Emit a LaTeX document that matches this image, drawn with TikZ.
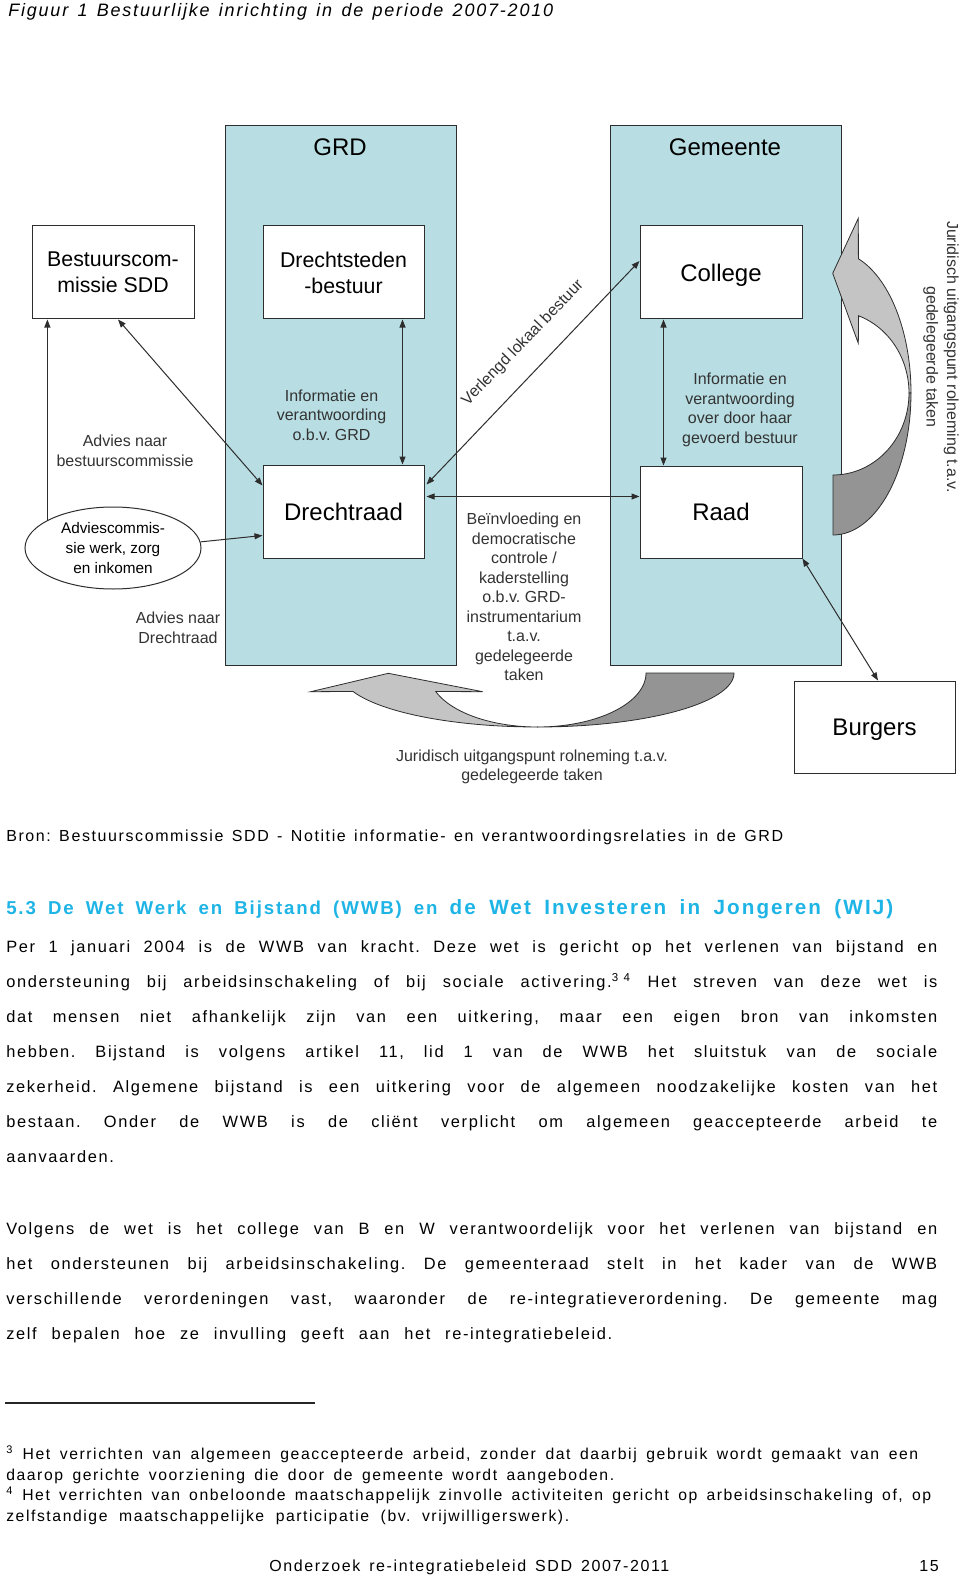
\documentclass[tikz,border=0pt]{standalone}
\usepackage{fontspec}
\setmainfont{Liberation Sans}
\newfontfamily\bodyf{Liberation Sans}[LetterSpace=10.0]
\usetikzlibrary{arrows.meta,shapes.geometric,calc}
\definecolor{boxblue}{RGB}{184,222,227}
\definecolor{arrlight}{RGB}{196,196,196}
\definecolor{arrdark}{RGB}{148,148,148}
\definecolor{headcyan}{RGB}{30,180,230}
\definecolor{edgec}{RGB}{45,45,45}
\newcommand{\pxl}[1]{#1*0.75pt}
\newcommand{\pxd}[1]{\dimexpr 0.75pt*#1\relax}
\newcommand{\jl}[2]{\makebox[\pxd{#1}][s]{#2}}
\tikzset{
  box/.style={draw=edgec, fill=white, line width=0.75pt, inner sep=0pt, align=center},
  container/.style={draw=edgec, fill=boxblue, line width=0.75pt, inner sep=0pt},
  big/.style={font=\fontsize{18}{21}\selectfont, text depth=0pt},
  mid/.style={font=\fontsize{16}{19.5}\selectfont},
  lbl/.style={font=\fontsize{12}{14.6}\selectfont, text=black!80, align=center, inner sep=0pt},
  conn/.style={line width=0.75pt, draw=edgec, {Triangle[length=6pt,width=4.5pt]}-{Triangle[length=6pt,width=4.5pt]}},
  conn1/.style={line width=0.75pt, draw=edgec, -{Triangle[length=6pt,width=4.5pt]}},
  bodytxt/.style={anchor=base west, inner sep=0pt, font=\bodyf\fontsize{12.3}{14}\selectfont},
  smalltxt/.style={anchor=base west, inner sep=0pt, font=\bodyf\fontsize{11.8}{13}\selectfont},
  garrow/.style={draw=edgec, line width=0.6pt},
}
\begin{document}
\frenchspacing
\begin{tikzpicture}[x=0.75pt, y=-0.75pt]
\fill[white] (0,0) rectangle (960,1576);
\useasboundingbox (0,0) rectangle (960,1576);

% caption
\node[bodytxt, font=\bodyf\itshape\fontsize{13.5}{15}\selectfont] (cap) at (8,17) {\jl{545}{Figuur 1 Bestuurlijke inrichting in de periode 2007-2010}};

% containers
\node[container, minimum width=\pxl{231}, minimum height=\pxl{539}] (grd) at (340.5,395.5) {};
\node[container, minimum width=\pxl{231}, minimum height=\pxl{539}] (gem) at (725.5,395.5) {};
\node[big, inner sep=0pt] (grdt) at (340,147) {GRD};
\node[big, inner sep=0pt] (gemt) at (725,147) {Gemeente};

% boxes
\node[box, mid, minimum width=\pxl{162}, minimum height=\pxl{93}] (bsc) at (113,272.5) {Bestuurscom-\\missie SDD};
\node[box, mid, minimum width=\pxl{161}, minimum height=\pxl{93}] (dsb) at (343.5,272.5) {Drechtsteden\\-bestuur};
\node[box, big, minimum width=\pxl{161}, minimum height=\pxl{93}] (dtr) at (343.5,511.5) {Drechtraad};
\node[box, big, minimum width=\pxl{162}, minimum height=\pxl{93}] (col) at (721,272.5) {College};
\node[box, big, minimum width=\pxl{162}, minimum height=\pxl{92}] (raad) at (721,512) {Raad};
\node[box, big, minimum width=\pxl{161}, minimum height=\pxl{92}] (burg) at (874.5,727) {Burgers};
\node[draw=edgec, fill=white, line width=0.75pt, ellipse, minimum width=\pxl{176}, minimum height=\pxl{82}, inner sep=0pt, align=center, font=\fontsize{11.5}{15}\selectfont] (ell) at (113,548) {Adviescommis-\\sie werk, zorg\\en inkomen};

% curved arrow right
\filldraw[garrow, fill=arrlight] plot[domain=71:0, samples=40] ({833+78*cos(\x)},{393-142*sin(\x)})
  -- plot[domain=0:70.3, samples=40] ({833+76*cos(\x)},{393-82*sin(\x)})
  -- (858.3,343.3) -- (832.7,273.3) -- (858.3,218.3) -- cycle;
\filldraw[garrow, fill=arrdark] plot[domain=0:-90, samples=40] ({833+78*cos(\x)},{393-142*sin(\x)})
  -- plot[domain=-90:0, samples=40] ({833+76*cos(\x)},{393-82*sin(\x)}) -- cycle;

% curved arrow bottom
\filldraw[garrow, fill=arrlight] plot[domain=90:160, samples=40] ({537.6+196.4*cos(\x)},{673+54*sin(\x)})
  -- (310.7,691.7) -- (388.3,673.3) -- (482.7,691.7)
  -- plot[domain=160:90, samples=40] ({537.6+108.4*cos(\x)},{673+54*sin(\x)}) -- cycle;
\filldraw[garrow, fill=arrdark] plot[domain=0:90, samples=40] ({537.6+196.4*cos(\x)},{673+54*sin(\x)})
  -- plot[domain=90:0, samples=40] ({537.6+108.4*cos(\x)},{673+54*sin(\x)}) -- cycle;

% connectors
\draw[conn] ($(bsc.south)+(5,0)$) -- ($(dtr.north west)+(0,21)$);
\draw[conn1] (ell.157) -- (ell.157 |- bsc.south);
\draw[conn1] (ell.4) -- ($(dtr.west)+(0,24)$);
\draw[conn] ($(dsb.south east)+(-22,0)$) -- ($(dtr.north east)+(-22,0)$);
\draw[conn] ($(dtr.north east)+(2,20)$) -- ($(col.west)+(0,-11.5)$);
\draw[conn] ($(dtr.east)+(2,-15)$) -- ($(raad.west)+(0,-15.5)$);
\draw[conn] ($(col.south west)+(24,0)$) -- ($(raad.north west)+(24,0)$);
\draw[conn] (raad.south east) -- ($(burg.north)+(3.5,0)$);

% labels
\node[lbl] (l1) at (125,451) {Advies naar\\bestuurscommissie};
\node[lbl] (l2) at (331.5,415) {Informatie en\\verantwoording\\o.b.v. GRD};
\node[lbl, rotate=46] (l3) at (523,343) {Verlengd lokaal bestuur};
\node[lbl] (l4) at (740,410) {Informatie en\\verantwoording\\over door haar\\gevoerd bestuur};
\node[lbl] (l5) at (178,628) {Advies naar\\Drechtraad};
\node[lbl] (l6) at (524,597) {Beïnvloeding en\\democratische\\controle /\\kaderstelling\\o.b.v. GRD-\\instrumentarium\\t.a.v.\\gedelegeerde\\taken};
\node[lbl] (l7) at (532,767) {Juridisch uitgangspunt rolneming t.a.v.\\gedelegeerde taken};
\node[lbl, rotate=-90, font=\fontsize{12}{15.5}\selectfont] (l8) at (941,357) {Juridisch uitgangspunt rolneming t.a.v.\\gedelegeerde taken};

% source
\node[smalltxt, font=\bodyf\fontsize{12}{14}\selectfont] (bron) at (6,841) {\jl{777}{Bron: Bestuurscommissie SDD - Notitie informatie- en verantwoordingsrelaties in de GRD}};

% heading
\node[bodytxt, font=\bodyf\bfseries\fontsize{14}{16}\selectfont, text=headcyan] (head) at (6,914) {\jl{887}{5.3 De Wet Werk en Bijstand (WWB) en {\fontsize{15.5}{17}\selectfont de Wet Investeren in Jongeren (WIJ)}}};

% paragraph 1
\node[bodytxt] (a1) at (6,952) {\jl{931}{Per 1 januari 2004 is de WWB van kracht. Deze wet is gericht op het verlenen van bijstand en}};
\node[bodytxt] (a2) at (6,987) {\jl{931}{ondersteuning bij arbeidsinschakeling of bij sociale activering.\textsuperscript{3\hspace{4pt}4} Het streven van deze wet is}};
\node[bodytxt] (a3) at (6,1022) {\jl{931}{dat mensen niet afhankelijk zijn van een uitkering, maar een eigen bron van inkomsten}};
\node[bodytxt] (a4) at (6,1057) {\jl{931}{hebben. Bijstand is volgens artikel 11, lid 1 van de WWB het sluitstuk van de sociale}};
\node[bodytxt] (a5) at (6,1092) {\jl{931}{zekerheid. Algemene bijstand is een uitkering voor de algemeen noodzakelijke kosten van het}};
\node[bodytxt] (a6) at (6,1127) {\jl{931}{bestaan. Onder de WWB is de cliënt verplicht om algemeen geaccepteerde arbeid te}};
\node[bodytxt] (a7) at (6,1162) {aanvaarden.};

% paragraph 2
\node[bodytxt] (b1) at (6,1234) {\jl{931}{Volgens de wet is het college van B en W verantwoordelijk voor het verlenen van bijstand en}};
\node[bodytxt] (b2) at (6,1269) {\jl{931}{het ondersteunen bij arbeidsinschakeling. De gemeenteraad stelt in het kader van de WWB}};
\node[bodytxt] (b3) at (6,1304) {\jl{931}{verschillende verordeningen vast, waaronder de re-integratieverordening. De gemeente mag}};
\node[bodytxt] (b4) at (6,1339) {\jl{606}{zelf bepalen hoe ze invulling geeft aan het re-integratiebeleid.}};

% footnotes
\draw[line width=0.9pt, black!85] (5,1403) -- (315,1403);
\node[smalltxt] (f1) at (6,1459) {\jl{912}{\textsuperscript{3} Het verrichten van algemeen geaccepteerde arbeid, zonder dat daarbij gebruik wordt gemaakt van een}};
\node[smalltxt] (f2) at (6,1480) {\jl{608}{daarop gerichte voorziening die door de gemeente wordt aangeboden.}};
\node[smalltxt] (f3) at (6,1500.5) {\jl{925}{\textsuperscript{4} Het verrichten van onbeloonde maatschappelijk zinvolle activiteiten gericht op arbeidsinschakeling of, op}};
\node[smalltxt] (f4) at (6,1521) {\jl{563}{zelfstandige maatschappelijke participatie (bv. vrijwilligerswerk).}};

% footer
\node[bodytxt, font=\bodyf\fontsize{12}{14}\selectfont] (foot) at (269,1571.5) {\jl{400}{Onderzoek re-integratiebeleid SDD 2007-2011}};
\node[bodytxt, anchor=base east, font=\bodyf\fontsize{12}{14}\selectfont] (pnum) at (939,1571.5) {15};
\end{tikzpicture}
\end{document}
